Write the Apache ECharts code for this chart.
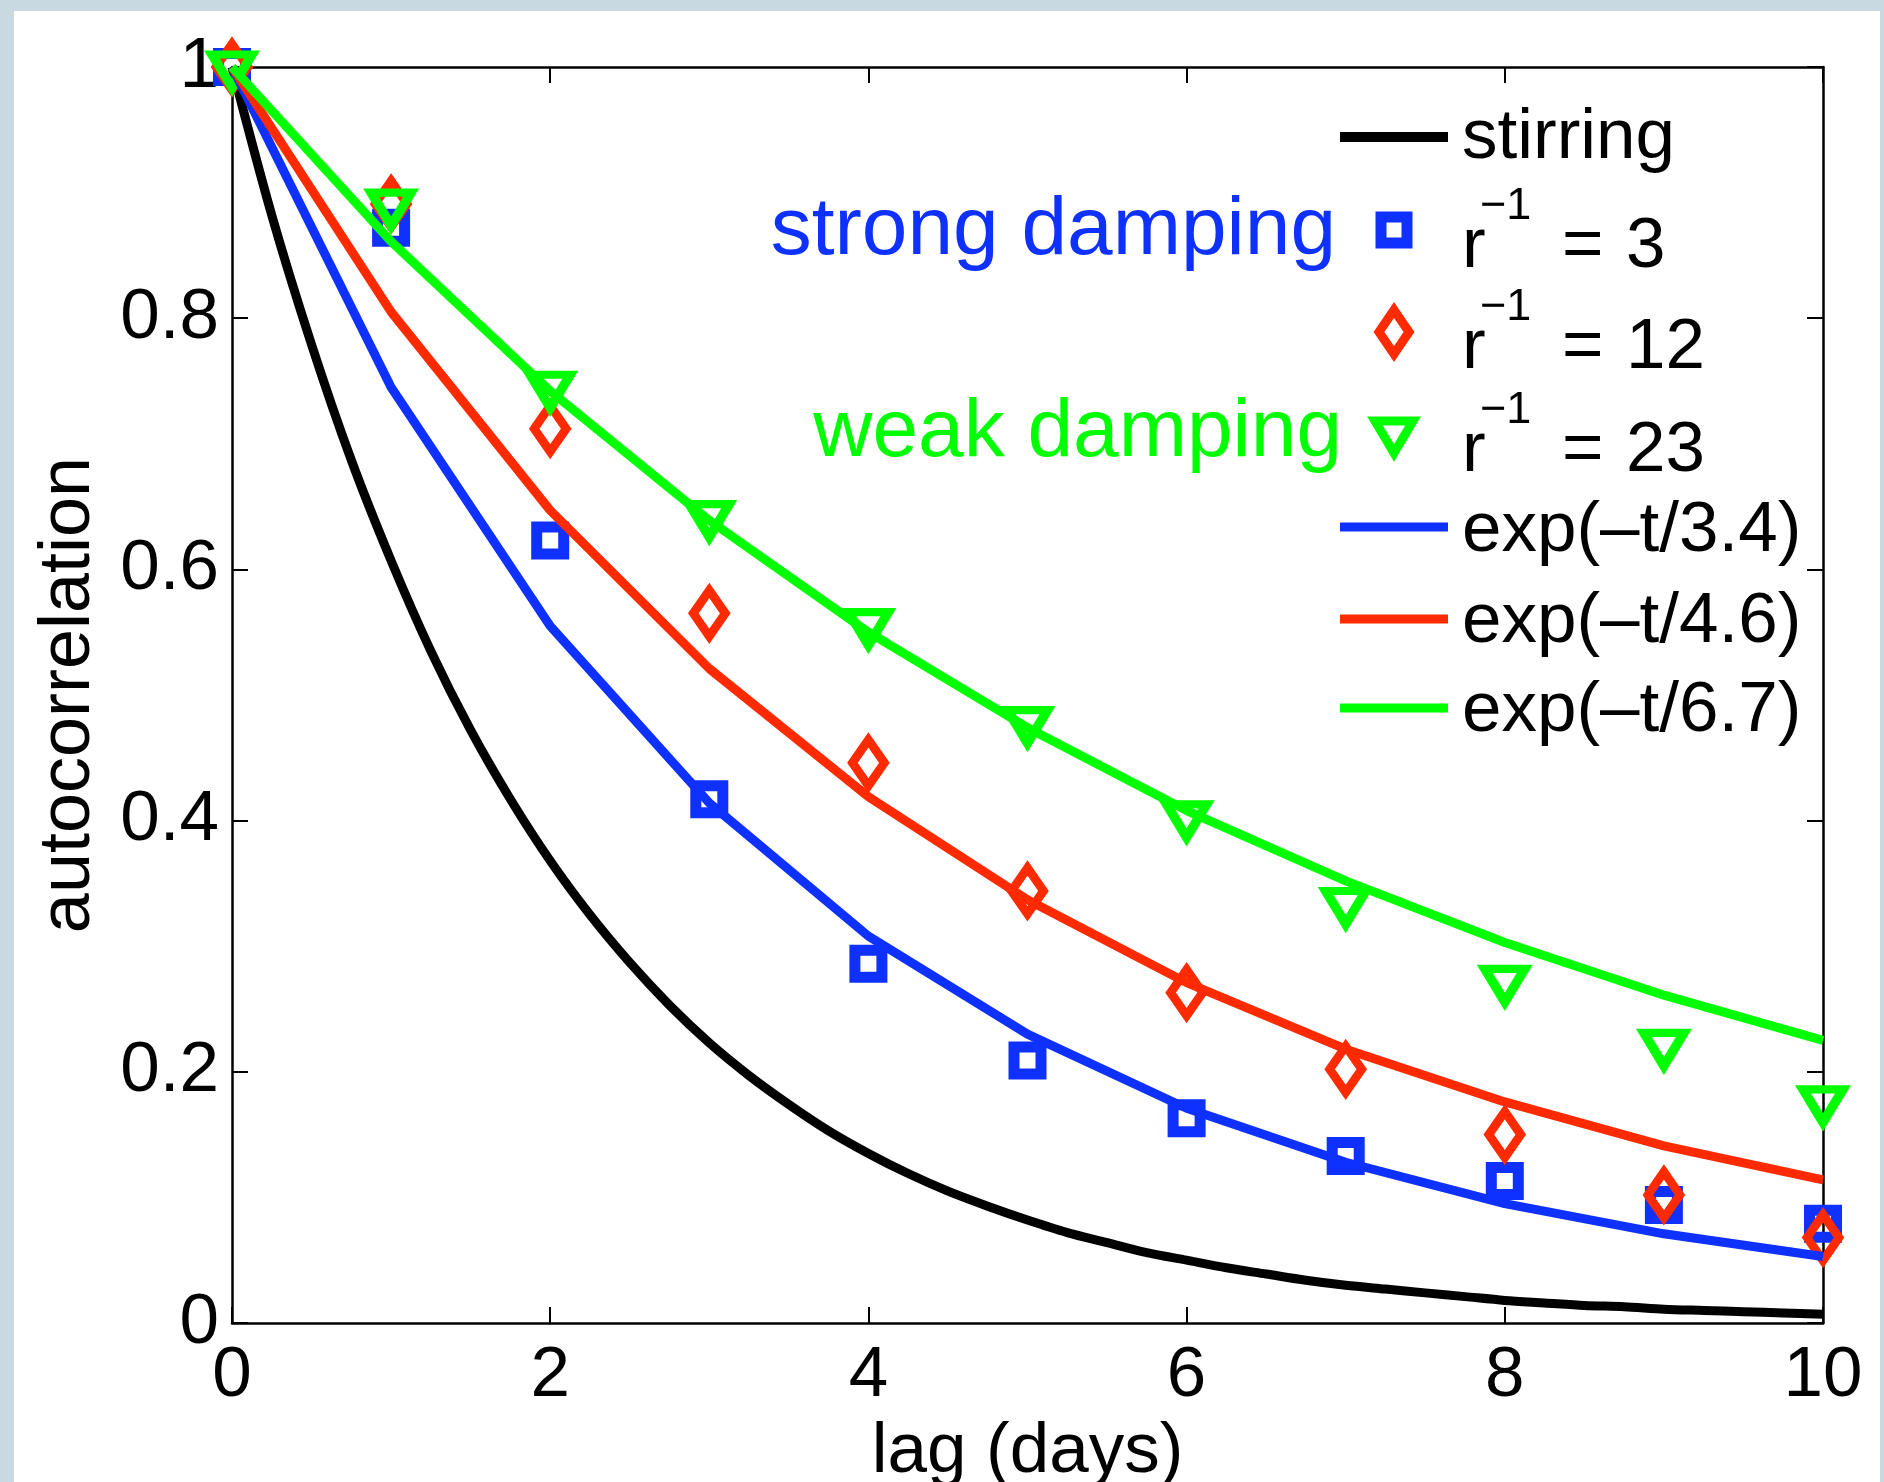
<!DOCTYPE html>
<html>
<head>
<meta charset="utf-8">
<script src="https://cdn.jsdelivr.net/npm/echarts@6/dist/echarts.min.js"></script>
<style>
html,body{margin:0;padding:0;background:#c9d9e2;width:1884px;height:1482px;overflow:hidden;}
#chart{position:absolute;left:14px;top:11px;width:1866px;height:1471px;background:#fff;}
</style>
</head>
<body>
<div id="chart"></div>
<script>
// ---- data ----
const lagDays = [0, 1, 2, 3, 4, 5, 6, 7, 8, 9, 10];
const xTicks = [0, 2, 4, 6, 8, 10];
const yTicks = [0, 0.2, 0.4, 0.6, 0.8, 1];

// stirring curve (smooth), sampled every quarter day
const stirT = [0, 0.25, 0.5, 0.75, 1, 1.25, 1.5, 1.75, 2, 2.25, 2.5, 2.75, 3, 3.25, 3.5, 3.75, 4, 4.25, 4.5, 4.75, 5,
  5.25, 5.5, 5.75, 6, 6.25, 6.5, 6.75, 7, 7.25, 7.5, 7.75, 8, 8.25, 8.5, 8.75, 9, 9.25, 9.5, 9.75, 10];
const stirV = [1, 0.882, 0.779, 0.687, 0.607, 0.535, 0.472, 0.417, 0.368, 0.325, 0.287, 0.253, 0.223, 0.197, 0.174, 0.153, 0.135, 0.119, 0.105, 0.093, 0.082,
  0.072, 0.064, 0.056, 0.050, 0.044, 0.039, 0.034, 0.030, 0.027, 0.024, 0.021, 0.018, 0.016, 0.014, 0.013, 0.011, 0.010, 0.009, 0.008, 0.007];

// markers
const strong3 = [1, 0.872, 0.623, 0.417, 0.286, 0.209, 0.163, 0.133, 0.113, 0.094, 0.079];
const mid12 = [1, 0.891, 0.712, 0.565, 0.446, 0.344, 0.263, 0.202, 0.150, 0.102, 0.068];
const weak23 = [1, 0.890, 0.745, 0.642, 0.556, 0.478, 0.403, 0.334, 0.272, 0.221, 0.176];

// fitted lines
const fit34 = [1, 0.745, 0.555, 0.414, 0.308, 0.230, 0.171, 0.128, 0.095, 0.071, 0.053];
const fit46 = [1, 0.805, 0.647, 0.521, 0.419, 0.337, 0.271, 0.218, 0.176, 0.141, 0.114];
const fit67 = [1, 0.861, 0.742, 0.639, 0.550, 0.474, 0.408, 0.352, 0.303, 0.261, 0.225];

const legendLabels = ['stirring', 'r', '−1', '=', '3', '12', '23', 'exp(–t/3.4)', 'exp(–t/4.6)', 'exp(–t/6.7)'];
const annotations = ['strong damping', 'weak damping'];

// ---- styling ----
const BLUE = '#0f31ff', RED = '#ff2a00', GREEN = '#00ff00', BLACK = '#000000';
const FONT = '"Liberation Sans", Arial, Helvetica, sans-serif';
const FS = 71;

const pairs = (xs, ys) => xs.map((x, i) => [x, ys[i]]);

const chart = echarts.init(document.getElementById('chart'), null, {renderer: 'canvas'});

function axisCommon(show) {
  return {
    axisLine: {show: true, onZero: false, lineStyle: {color: BLACK, width: 2.5}},
    axisTick: {show: true, inside: true, length: 16, lineStyle: {color: BLACK, width: 2}},
    splitLine: {show: false},
    axisLabel: {show: show, color: BLACK, fontSize: FS, fontFamily: FONT}
  };
}

const xa = axisCommon(true);
xa.axisLabel.margin = 18;
const ya = axisCommon(true);
ya.axisLabel.margin = 13;

function lineText(text, x, y, color, size, align) {
  return {type: 'text', x: x, y: y, z: 100,
    style: {text: text, fill: color, font: size + 'px ' + FONT, align: align || 'left', verticalAlign: 'middle'}};
}

const LX0 = 1326, LX1 = 1434, TX = 1448, MX = 1380, SX = 1466, EQX = 1548, NX = 1612;
const R1 = 236, R2 = 337, R3 = 440;
const graphics = [
  {type: 'line', z: 100, shape: {x1: LX0, y1: 126, x2: LX1, y2: 126}, style: {stroke: BLACK, lineWidth: 10}},
  lineText(legendLabels[0], TX, 127, BLACK, FS),
  // square
  {type: 'rect', z: 100, shape: {x: MX - 13, y: 219 - 13, width: 26, height: 26}, style: {fill: 'none', stroke: BLUE, lineWidth: 11}},
  lineText(annotations[0], 1322, 220, BLUE, 82, 'right'),
  lineText(legendLabels[1], TX, R1, BLACK, FS),
  lineText(legendLabels[2], SX, R1 - 40, BLACK, 45),
  lineText(legendLabels[3], EQX, R1, BLACK, FS),
  lineText(legendLabels[4], NX, R1, BLACK, FS),
  // diamond
  {type: 'polygon', z: 100, shape: {points: [[MX, 321 - 22], [MX + 15, 321], [MX, 321 + 22], [MX - 15, 321]]}, style: {fill: 'none', stroke: RED, lineWidth: 9, lineJoin: 'miter', miterLimit: 10}},
  lineText(legendLabels[1], TX, R2, BLACK, FS),
  lineText(legendLabels[2], SX, R2 - 40, BLACK, 45),
  lineText(legendLabels[3], EQX, R2, BLACK, FS),
  lineText(legendLabels[5], NX, R2, BLACK, FS),
  // triangle down
  {type: 'polygon', z: 100, shape: {points: [[MX - 19, 424 - 14], [MX + 19, 424 - 14], [MX, 424 + 18]]}, style: {fill: 'none', stroke: GREEN, lineWidth: 9, lineJoin: 'miter', miterLimit: 10}},
  lineText(annotations[1], 1328, 422, GREEN, 82, 'right'),
  lineText(legendLabels[1], TX, R3, BLACK, FS),
  lineText(legendLabels[2], SX, R3 - 40, BLACK, 45),
  lineText(legendLabels[3], EQX, R3, BLACK, FS),
  lineText(legendLabels[6], NX, R3, BLACK, FS),
  // fit lines
  {type: 'line', z: 100, shape: {x1: LX0, y1: 516, x2: LX1, y2: 516}, style: {stroke: BLUE, lineWidth: 9}},
  lineText(legendLabels[7], TX, 520, BLACK, FS),
  {type: 'line', z: 100, shape: {x1: LX0, y1: 608, x2: LX1, y2: 608}, style: {stroke: RED, lineWidth: 9}},
  lineText(legendLabels[8], TX, 611, BLACK, FS),
  {type: 'line', z: 100, shape: {x1: LX0, y1: 697, x2: LX1, y2: 697}, style: {stroke: GREEN, lineWidth: 9}},
  lineText(legendLabels[9], TX, 700, BLACK, FS)
];

const option = {
  animation: false,
  backgroundColor: '#ffffff',
  textStyle: {fontFamily: FONT},
  grid: {left: 218, right: 57, top: 56, bottom: 159, containLabel: false, outerBoundsMode: 'none'},
  xAxis: [
    Object.assign({type: 'value', min: 0, max: 10, interval: 2, position: 'bottom',
      name: 'lag (days)', nameLocation: 'middle', nameGap: 90,
      nameTextStyle: {color: BLACK, fontSize: FS, fontFamily: FONT}}, xa,
      {axisLabel: Object.assign({}, xa.axisLabel, {formatter: v => xTicks.includes(v) ? String(v) : ''})}),
    Object.assign({type: 'value', min: 0, max: 10, interval: 2, position: 'top'}, axisCommon(false))
  ],
  yAxis: [
    Object.assign({type: 'value', min: 0, max: 1, interval: 0.2, position: 'left',
      name: 'autocorrelation', nameLocation: 'middle', nameGap: 127, nameRotate: 90,
      nameTextStyle: {color: BLACK, fontSize: 72, fontFamily: FONT}}, ya,
      {axisLabel: Object.assign({}, ya.axisLabel, {formatter: v => {
        const t = yTicks.find(k => Math.abs(k - v) < 1e-9);
        return t === undefined ? '' : String(t);
      }})}),
    Object.assign({type: 'value', min: 0, max: 1, interval: 0.2, position: 'right'}, axisCommon(false))
  ],
  series: [
    {name: 'stirring', type: 'line', data: pairs(stirT, stirV), showSymbol: false, smooth: 0.3, clip: false, z: 2,
      lineStyle: {color: BLACK, width: 9, join: 'round'}},
    {name: 'r⁻¹ = 3', type: 'scatter', data: pairs(lagDays, strong3), symbol: 'rect', symbolSize: 27, clip: false, z: 3,
      itemStyle: {color: 'rgba(0,0,0,0)', opacity: 1, borderColor: BLUE, borderWidth: 11}},
    {name: 'r⁻¹ = 12', type: 'scatter', data: pairs(lagDays, mid12), symbol: 'diamond', symbolSize: [32, 46], clip: false, z: 4,
      itemStyle: {color: 'rgba(0,0,0,0)', opacity: 1, borderColor: RED, borderWidth: 9, borderJoin: 'miter', borderMiterLimit: 10}},
    {name: 'r⁻¹ = 23', type: 'scatter', data: pairs(lagDays, weak23), symbol: 'triangle', symbolSize: [40, 33], symbolRotate: 180, symbolOffset: [0, 4], clip: false, z: 5,
      itemStyle: {color: 'rgba(0,0,0,0)', opacity: 1, borderColor: GREEN, borderWidth: 9, borderJoin: 'miter', borderMiterLimit: 10}},
    {name: 'exp(–t/3.4)', type: 'line', data: pairs(lagDays, fit34), showSymbol: false, clip: false, z: 6,
      lineStyle: {color: BLUE, width: 9}},
    {name: 'exp(–t/4.6)', type: 'line', data: pairs(lagDays, fit46), showSymbol: false, clip: false, z: 7,
      lineStyle: {color: RED, width: 9}},
    {name: 'exp(–t/6.7)', type: 'line', data: pairs(lagDays, fit67), showSymbol: false, clip: false, z: 8,
      lineStyle: {color: GREEN, width: 9}}
  ],
  graphic: graphics
};
chart.setOption(option);
</script>
</body>
</html>
